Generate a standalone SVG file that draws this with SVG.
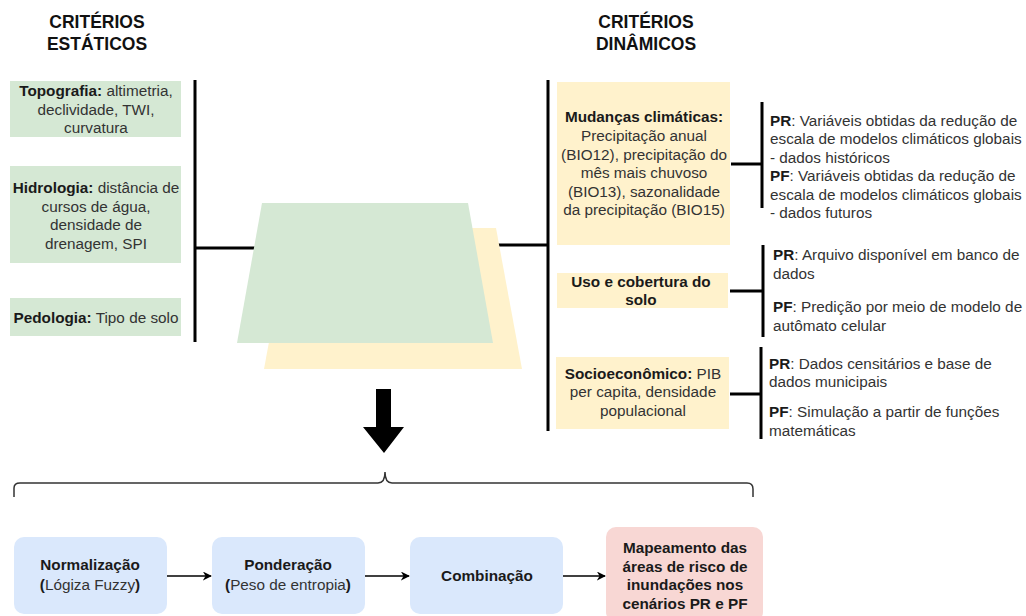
<svg xmlns="http://www.w3.org/2000/svg" width="1026" height="616" viewBox="0 0 1026 616">
<style>
text{font-family:"Liberation Sans",Arial,sans-serif;font-size:15.3px;fill:#333}
.c{text-anchor:middle}
.b{font-weight:bold;fill:#1a1a1a}
.t{font-size:17.5px;font-weight:bold;fill:#111;text-anchor:middle}
.g{fill:#d5e8d4}
.y{fill:#fff2cc}
.bl{fill:#dae8fc}
.ln{stroke:#000;stroke-width:3;fill:none}
.ar{stroke:#000;stroke-width:1.5;fill:none;marker-end:url(#ah)}
</style>
<defs>
<marker id="ah" viewBox="0 0 10 10" refX="9" refY="5" markerWidth="9" markerHeight="9" markerUnits="userSpaceOnUse" orient="auto">
<path d="M0,0 L10,5 L0,10 L3,5 Z" fill="#000"/>
</marker>
</defs>
<rect width="1026" height="616" fill="#fff"/>

<g id="titles">
<text class="t" x="97" y="28">CRITÉRIOS</text>
<text class="t" x="97" y="50">ESTÁTICOS</text>
<text class="t" x="646" y="28">CRITÉRIOS</text>
<text class="t" x="646" y="50">DINÂMICOS</text>
</g>

<g id="connectors">
<line class="ln" x1="195" y1="80" x2="195" y2="342"/>
<line class="ln" x1="195" y1="248" x2="255" y2="248"/>
<line class="ln" x1="498" y1="245" x2="548" y2="245"/>
<line class="ln" x1="548" y1="80" x2="548" y2="431"/>
<line class="ln" x1="731" y1="164" x2="762" y2="164"/>
<line class="ln" x1="762" y1="102" x2="762" y2="208"/>
<line class="ln" x1="730" y1="291" x2="763" y2="291"/>
<line class="ln" x1="763" y1="245" x2="763" y2="337"/>
<line class="ln" x1="730" y1="394" x2="761" y2="394"/>
<line class="ln" x1="761" y1="347" x2="761" y2="439"/>
<path d="M14,497 V488 Q14,483 20,483 H378 Q385,483 385,472 Q385,483 392,483 H747 Q753,483 753,489 V497" stroke="#333" stroke-width="1.5" fill="none"/>
<line class="ar" x1="167" y1="576" x2="211" y2="576"/>
<line class="ar" x1="365" y1="576" x2="409" y2="576"/>
<line class="ar" x1="563" y1="576" x2="605" y2="576"/>
</g>

<g id="layers">
<polygon class="y" points="290,228 496,228 522,369 264,369"/>
<polygon class="g" points="262,203 468,203 493,343 237,343"/>
</g>

<g id="arrow-down">
<polygon points="376,389 391,389 391,427 404,427 384,453 363,427 376,427" fill="#000"/>
</g>

<g id="topografia">
<rect class="g" x="10" y="81" width="171" height="56"/>
<text class="c" x="96" y="96"><tspan class="b">Topografia:</tspan> altimetria,</text>
<text class="c" x="96" y="115">declividade, TWI,</text>
<text class="c" x="96" y="133">curvatura</text>
</g>

<g id="hidrologia">
<rect class="g" x="10" y="166" width="171" height="97"/>
<text class="c" x="96" y="193"><tspan class="b">Hidrologia:</tspan> distância de</text>
<text class="c" x="96" y="212">cursos de água,</text>
<text class="c" x="96" y="230">densidade de</text>
<text class="c" x="96" y="249">drenagem, SPI</text>
</g>

<g id="pedologia">
<rect class="g" x="10" y="298" width="171" height="38"/>
<text class="c" x="96" y="323"><tspan class="b">Pedologia:</tspan> Tipo de solo</text>
</g>

<g id="mudancas">
<rect class="y" x="557" y="82" width="173" height="163"/>
<text class="c" x="644" y="122"><tspan class="b">Mudanças climáticas:</tspan></text>
<text class="c" x="644" y="141">Precipitação anual</text>
<text class="c" x="644" y="160">(BIO12), precipitação do</text>
<text class="c" x="644" y="178">mês mais chuvoso</text>
<text class="c" x="644" y="197">(BIO13), sazonalidade</text>
<text class="c" x="644" y="215">da precipitação (BIO15)</text>
</g>

<g id="mudancas-detalhe">
<text x="770" y="126"><tspan class="b">PR</tspan>: Variáveis obtidas da redução de</text>
<text x="770" y="144">escala de modelos climáticos globais</text>
<text x="770" y="163">- dados históricos</text>
<text x="770" y="181"><tspan class="b">PF</tspan>: Variáveis obtidas da redução de</text>
<text x="770" y="200">escala de modelos climáticos globais</text>
<text x="770" y="218">- dados futuros</text>
</g>

<g id="uso">
<rect class="y" x="557" y="273" width="171" height="35"/>
<text class="c b" x="641" y="287">Uso e cobertura do</text>
<text class="c b" x="641" y="305">solo</text>
</g>

<g id="uso-detalhe">
<text x="773" y="260"><tspan class="b">PR</tspan>: Arquivo disponível em banco de</text>
<text x="773" y="279">dados</text>
<text x="773" y="312"><tspan class="b">PF</tspan>: Predição por meio de modelo de</text>
<text x="773" y="331">autômato celular</text>
</g>

<g id="socio">
<rect class="y" x="556" y="357" width="173" height="72"/>
<text class="c" x="643" y="379"><tspan class="b">Socioeconômico:</tspan> PIB</text>
<text class="c" x="643" y="397">per capita, densidade</text>
<text class="c" x="643" y="416">populacional</text>
</g>

<g id="socio-detalhe">
<text x="769" y="369"><tspan class="b">PR</tspan>: Dados censitários e base de</text>
<text x="769" y="387">dados municipais</text>
<text x="769" y="417"><tspan class="b">PF</tspan>: Simulação a partir de funções</text>
<text x="769" y="436">matemáticas</text>
</g>

<g id="normalizacao">
<rect class="bl" x="14" y="537" width="153" height="77" rx="10"/>
<text class="c b" x="90" y="570">Normalização</text>
<text class="c" x="90" y="590"><tspan class="b">(</tspan>Lógiza Fuzzy<tspan class="b">)</tspan></text>
</g>

<g id="ponderacao">
<rect class="bl" x="212" y="537" width="153" height="77" rx="10"/>
<text class="c b" x="288" y="570">Ponderação</text>
<text class="c" x="288" y="590"><tspan class="b">(</tspan>Peso de entropia<tspan class="b">)</tspan></text>
</g>

<g id="combinacao">
<rect class="bl" x="410" y="537" width="153" height="77" rx="10"/>
<text class="c b" x="487" y="581">Combinação</text>
</g>

<g id="mapeamento">
<rect x="606" y="527" width="157" height="95" rx="10" fill="#f8d7d4"/>
<text class="c b" x="685" y="553">Mapeamento das</text>
<text class="c b" x="685" y="572">áreas de risco de</text>
<text class="c b" x="685" y="590">inundações nos</text>
<text class="c b" x="685" y="609">cenários PR e PF</text>
</g>
</svg>
